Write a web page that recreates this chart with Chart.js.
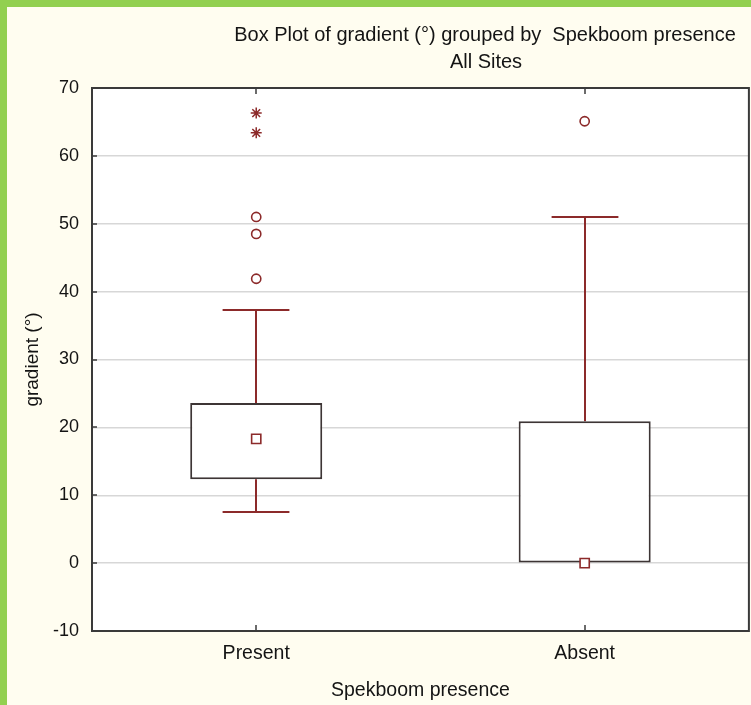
<!DOCTYPE html>
<html><head><meta charset="utf-8">
<script src="https://cdn.jsdelivr.net/npm/chart.js@4.4.1/dist/chart.umd.min.js"></script>
<style>
html,body{margin:0;padding:0;background:#92D050;width:751px;height:705px;overflow:hidden}
#wrap{position:absolute;left:7px;top:7px;width:744px;height:698px;background:#FFFDF0;overflow:hidden}
canvas{display:block}
</style></head><body>
<div id="wrap"><canvas id="c" width="750" height="698"></canvas></div>
<script>
// ---- data ----
const categories = ['Present', 'Absent'];
const boxLow = [12.35, 0.0];
const boxHigh = [23.6, 20.9];
const medians = [18.3, 0.0];
const whiskerLow = [7.5, 0.0];
const whiskerHigh = [37.3, 51.0];
const outlierPresent = [51.0, 48.5, 41.9];
const outlierAbsent = [65.1];
const extremePresent = [66.3, 63.4];
const extremeAbsent = [];
const yMin = -10, yMax = 70, yStep = 10;
const titleLines = ['Box Plot of gradient (\u00b0) grouped by  Spekboom presence', 'All Sites'];
const xTitle = 'Spekboom presence';
const yTitle = 'gradient (\u00b0)';

// ---- styles ----
const FONT = '"Liberation Sans", Arial, sans-serif';
const TEXT = '#141414';
const BOXC = '#3d3535';
const RED = '#8c2a2a';
const FRAME = '#3a3a3a';

const boxData = categories.map((c, i) => [boxLow[i], boxHigh[i]]);
const medianPts = categories.map((c, i) => ({x: c, y: medians[i]}));
const outlierPts = [
  ...outlierPresent.map(v => ({x: categories[0], y: v})),
  ...outlierAbsent.map(v => ({x: categories[1], y: v}))
];
const extremePts = [
  ...extremePresent.map(v => ({x: categories[0], y: v})),
  ...extremeAbsent.map(v => ({x: categories[1], y: v}))
];

function seg(ctx, x1, y1, x2, y2) { ctx.beginPath(); ctx.moveTo(x1, y1); ctx.lineTo(x2, y2); ctx.stroke(); }

const bgPlugin = {
  id: 'bg',
  beforeDraw(chart) {
    const {ctx, chartArea: a} = chart;
    ctx.save(); ctx.fillStyle = '#ffffff';
    ctx.fillRect(a.left, a.top, a.right - a.left, a.bottom - a.top);
    ctx.restore();
  }
};

const whiskerPlugin = {
  id: 'whiskers',
  beforeDatasetsDraw(chart) {
    const {ctx, scales: {x, y}} = chart;
    const meta = chart.getDatasetMeta(0);
    ctx.save(); ctx.strokeStyle = RED; ctx.lineWidth = 2;
    categories.forEach((c, i) => {
      const px = Math.round(x.getPixelForValue(i));
      const half = meta.data[i].width * 0.253;
      if (whiskerHigh[i] > boxHigh[i]) {
        const yT = Math.round(y.getPixelForValue(whiskerHigh[i])), yB = y.getPixelForValue(boxHigh[i]);
        seg(ctx, px, yB, px, yT); seg(ctx, px - half, yT, px + half, yT);
      }
      if (whiskerLow[i] < boxLow[i]) {
        const yT = y.getPixelForValue(boxLow[i]), yB = Math.round(y.getPixelForValue(whiskerLow[i]));
        seg(ctx, px, yT, px, yB); seg(ctx, px - half, yB, px + half, yB);
      }
    });
    ctx.restore();
  }
};

const framePlugin = {
  id: 'frame',
  afterDraw(chart) {
    const {ctx, chartArea: a, scales: {x, y}} = chart;
    ctx.save();
    ctx.strokeStyle = FRAME; ctx.lineWidth = 1.5;
    y.ticks.forEach(t => {
      if (t.value === yMin || t.value === yMax) return;
      const py = Math.round(y.getPixelForValue(t.value));
      seg(ctx, a.left, py, a.left + 5, py);
    });
    categories.forEach((c, i) => {
      const px = Math.round(x.getPixelForValue(i));
      seg(ctx, px, a.top, px, a.top + 6);
      seg(ctx, px, a.bottom - 6, px, a.bottom);
    });
    ctx.lineWidth = 2;
    ctx.strokeRect(a.left, a.top, a.right - a.left, a.bottom - a.top);
    // main title
    ctx.fillStyle = TEXT;
    ctx.font = '20px ' + FONT;
    ctx.textAlign = 'center'; ctx.textBaseline = 'middle';
    ctx.fillText(titleLines[0], 478, 28);
    ctx.fillText(titleLines[1], 479, 55);
    ctx.restore();
  }
};

new Chart(document.getElementById('c'), {
  type: 'bar',
  data: {
    labels: categories,
    datasets: [
      {
        type: 'bar', data: boxData, backgroundColor: '#ffffff', borderColor: BOXC,
        borderWidth: 2, borderSkipped: false, barPercentage: 0.402, categoryPercentage: 1, order: 3
      },
      {
        type: 'line', data: extremePts, showLine: false, pointStyle: 'star', pointRadius: 5.5,
        pointBorderColor: RED, pointBackgroundColor: RED, pointBorderWidth: 1.5, order: 1
      },
      {
        type: 'line', data: outlierPts, showLine: false, pointStyle: 'circle', pointRadius: 4.6,
        pointBorderColor: RED, pointBackgroundColor: '#ffffff', pointBorderWidth: 1.6, order: 1
      },
      {
        type: 'line', data: medianPts, showLine: false, pointStyle: 'rect', pointRadius: 6.5,
        pointBorderColor: RED, pointBackgroundColor: '#ffffff', pointBorderWidth: 1.6, order: 1
      }
    ]
  },
  options: {
    responsive: false,
    animation: false,
    events: [],
    layout: {padding: {top: 81, left: 0, right: 2, bottom: 0}},
    plugins: {legend: {display: false}, tooltip: {enabled: false}, title: {display: false}},
    scales: {
      x: {
        type: 'category', offset: true,
        grid: {display: false, drawTicks: false},
        border: {display: false},
        ticks: {color: TEXT, font: {family: FONT, size: 19.5}, padding: 11, maxRotation: 0},
        title: {display: true, text: xTitle, color: TEXT, font: {family: FONT, size: 19.5}, padding: {top: 0, bottom: 3}},
        afterFit(s) { s.height = 74; s.paddingLeft = 0; s.paddingRight = 0; }
      },
      y: {
        min: yMin, max: yMax,
        grid: {color: '#d7d7d7', lineWidth: 1.5, drawTicks: false},
        border: {display: false},
        ticks: {stepSize: yStep, color: TEXT, font: {family: FONT, size: 18}, padding: 13},
        title: {display: true, text: yTitle, color: TEXT, font: {family: FONT, size: 19}, padding: {top: 14, bottom: 0}},
        afterFit(s) { s.width = 85; }
      }
    }
  },
  plugins: [bgPlugin, whiskerPlugin, framePlugin]
});
</script>
</body></html>
